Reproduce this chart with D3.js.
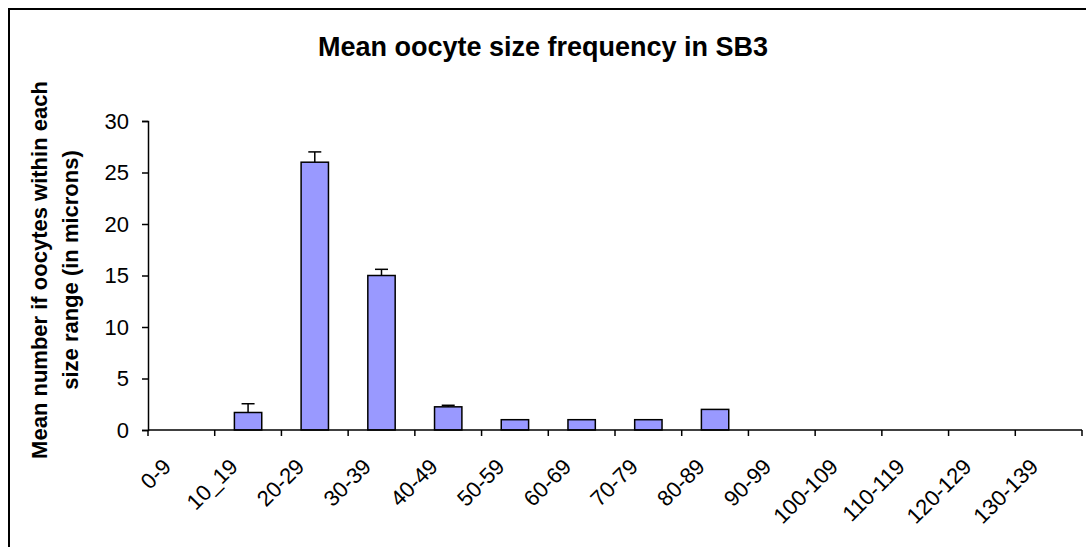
<!DOCTYPE html>
<html>
<head>
<meta charset="utf-8">
<script src="https://cdn.jsdelivr.net/npm/d3@7"></script>
<style>
  html, body { margin: 0; padding: 0; background: #fff; }
  svg { display: block; font-family: "Liberation Sans", Arial, sans-serif; }
</style>
</head>
<body>
<svg id="chart" width="1086" height="547"></svg>
<script>
const categories = ["0-9", "10_19", "20-29", "30-39", "40-49", "50-59", "60-69", "70-79", "80-89", "90-99", "100-109", "110-119", "120-129", "130-139"];
const meanValues = [0, 1.7, 26, 15, 2.25, 1, 1, 1, 2, 0, 0, 0, 0, 0];
const errorValues = [0, 0.85, 1.0, 0.6, 0.15, 0, 0, 0, 0, 0, 0, 0, 0, 0];
const yTicks = [0, 5, 10, 15, 20, 25, 30];
const titleText = "Mean oocyte size frequency in SB3";
const yLabelLines = ["Mean number if oocytes within each", "size range (in microns)"];

const svg = d3.select("#chart");
const plot = { left: 148, right: 1082, top: 121, bottom: 430 };

// frame
svg.append("rect").attr("x", 9).attr("y", 9).attr("width", 1200).attr("height", 700)
  .attr("fill", "none").attr("stroke", "#000").attr("stroke-width", 2);

// title
svg.append("text").attr("x", 543).attr("y", 56).attr("text-anchor", "middle")
  .attr("font-weight", "bold").attr("font-size", 27).text(titleText);

const x = d3.scaleBand().domain(categories).range([plot.left, plot.right]).padding(0);
const y = d3.scaleLinear().domain([0, 30]).range([plot.bottom, plot.top]);

// y axis
const yAxis = d3.axisLeft(y).tickValues(yTicks).tickSize(6).tickPadding(13).tickFormat(d3.format("d"));
const gy = svg.append("g").attr("transform", `translate(${plot.left},0)`).call(yAxis);
gy.select(".domain").attr("stroke", "#000").attr("stroke-width", 1.5);
gy.selectAll(".tick line").attr("stroke", "#000").attr("stroke-width", 1.5);
gy.selectAll(".tick text").attr("font-size", 22).attr("font-family", "Liberation Sans, Arial, sans-serif").attr("fill", "#000");

// bars
const bw = x.bandwidth() * 0.41;
const data = categories.map((c, i) => ({ c, v: meanValues[i], e: errorValues[i] }));
svg.append("g").selectAll("rect").data(data.filter(d => d.v > 0)).join("rect")
  .attr("x", d => x(d.c) + x.bandwidth() / 2 - bw / 2)
  .attr("y", d => y(d.v))
  .attr("width", bw)
  .attr("height", d => y(0) - y(d.v))
  .attr("fill", "#9999FF").attr("stroke", "#000").attr("stroke-width", 1.5);

// error bars (upper only)
const eg = svg.append("g").attr("stroke", "#000").attr("stroke-width", 1.5);
data.filter(d => d.e > 0).forEach(d => {
  const cx = x(d.c) + x.bandwidth() / 2;
  eg.append("line").attr("x1", cx).attr("x2", cx).attr("y1", y(d.v)).attr("y2", y(d.v + d.e));
  eg.append("line").attr("x1", cx - 6.5).attr("x2", cx + 6.5).attr("y1", y(d.v + d.e)).attr("y2", y(d.v + d.e));
});

// x axis
const gx = svg.append("g");
gx.append("line").attr("x1", plot.left).attr("x2", plot.right).attr("y1", plot.bottom).attr("y2", plot.bottom)
  .attr("stroke", "#000").attr("stroke-width", 1.5);
const bounds = categories.map(c => x(c)).concat([x(categories[categories.length - 1]) + x.bandwidth()]);
gx.selectAll("line.tk").data(bounds).join("line").attr("class", "tk")
  .attr("x1", d => d).attr("x2", d => d).attr("y1", plot.bottom).attr("y2", plot.bottom + 6)
  .attr("stroke", "#000").attr("stroke-width", 1.5);
gx.selectAll("text").data(categories).join("text")
  .attr("transform", d => `translate(${x(d) + x.bandwidth() / 2 - 9},${468}) rotate(-45)`)
  .attr("text-anchor", "end").attr("font-size", 22).text(d => d);

// y label
const yl = svg.append("text").attr("transform", `translate(47,270) rotate(-90)`)
  .attr("text-anchor", "middle").attr("font-weight", "bold").attr("font-size", 22);
yl.append("tspan").attr("x", 0).attr("y", 0).text(yLabelLines[0]);
yl.append("tspan").attr("x", 0).attr("y", 31).text(yLabelLines[1]);
</script>
</body>
</html>
